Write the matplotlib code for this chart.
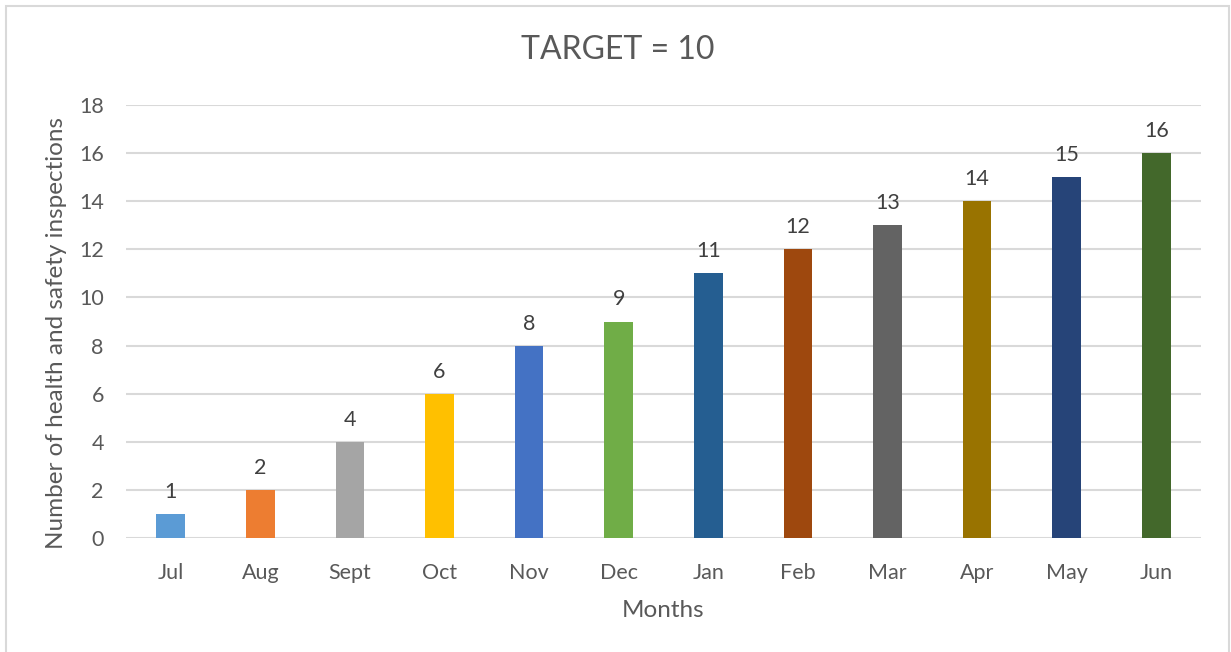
import matplotlib
matplotlib.use("Agg")
import matplotlib.pyplot as plt
from matplotlib.patches import Rectangle

months = ["Jul", "Aug", "Sept", "Oct", "Nov", "Dec",
          "Jan", "Feb", "Mar", "Apr", "May", "Jun"]
inspections = [1, 2, 4, 6, 8, 9, 11, 12, 13, 14, 15, 16]
bar_colors = ["#5B9BD5", "#ED7D31", "#A5A5A5", "#FFC000", "#4472C4", "#70AD47",
              "#255E91", "#9E480E", "#636363", "#997300", "#264478", "#43682B"]
yticks = [0, 2, 4, 6, 8, 10, 12, 14, 16, 18]

text_col = "#595959"
grid_col = "#D9D9D9"

plt.rcParams["font.family"] = ["Lato", "DejaVu Sans"]

W, H = 1231, 652
fig = plt.figure(figsize=(W / 100, H / 100), dpi=100)

# chart frame (bottom edge runs off the canvas)
fig.add_artist(Rectangle((6 / W, -0.05), (1229 - 6) / W, (646 / H) + 0.05,
                         transform=fig.transFigure, fill=False,
                         edgecolor=grid_col, linewidth=1.5))

ax = fig.add_axes([126 / W, 114 / H, (1201 - 126) / W, (538 - 105) / H])
x = range(len(months))
ax.bar(x, inspections, width=0.32, color=bar_colors, zorder=3)

for xi, v in zip(x, inspections):
    ax.text(xi, v + 0.5, str(v), ha="center", va="bottom",
            fontsize=15.5, color="#404040")

ax.set_xlim(-0.5, len(months) - 0.5)
ax.set_ylim(0, 18)
ax.set_yticks(yticks)
ax.set_xticks(list(x))
ax.set_xticklabels(months)
ax.tick_params(axis="both", length=0, labelsize=15.5, labelcolor=text_col)
ax.tick_params(axis="x", pad=18)
ax.tick_params(axis="y", pad=16)
ax.grid(axis="y", color=grid_col, linewidth=1.5, zorder=0)
for s in ax.spines.values():
    s.set_visible(False)

ax.set_xlabel("Months", fontsize=17.5, color=text_col, labelpad=12)
ax.set_ylabel("Number of health and safety inspections", fontsize=17.5,
              color=text_col)
ax.yaxis.set_label_coords(-0.055, 0.474)
fig.text(618 / W, 1 - 50 / H, "TARGET = 10", ha="center", va="center",
         fontsize=23, color=text_col)

fig.savefig("out.png", dpi=100, facecolor="white")
